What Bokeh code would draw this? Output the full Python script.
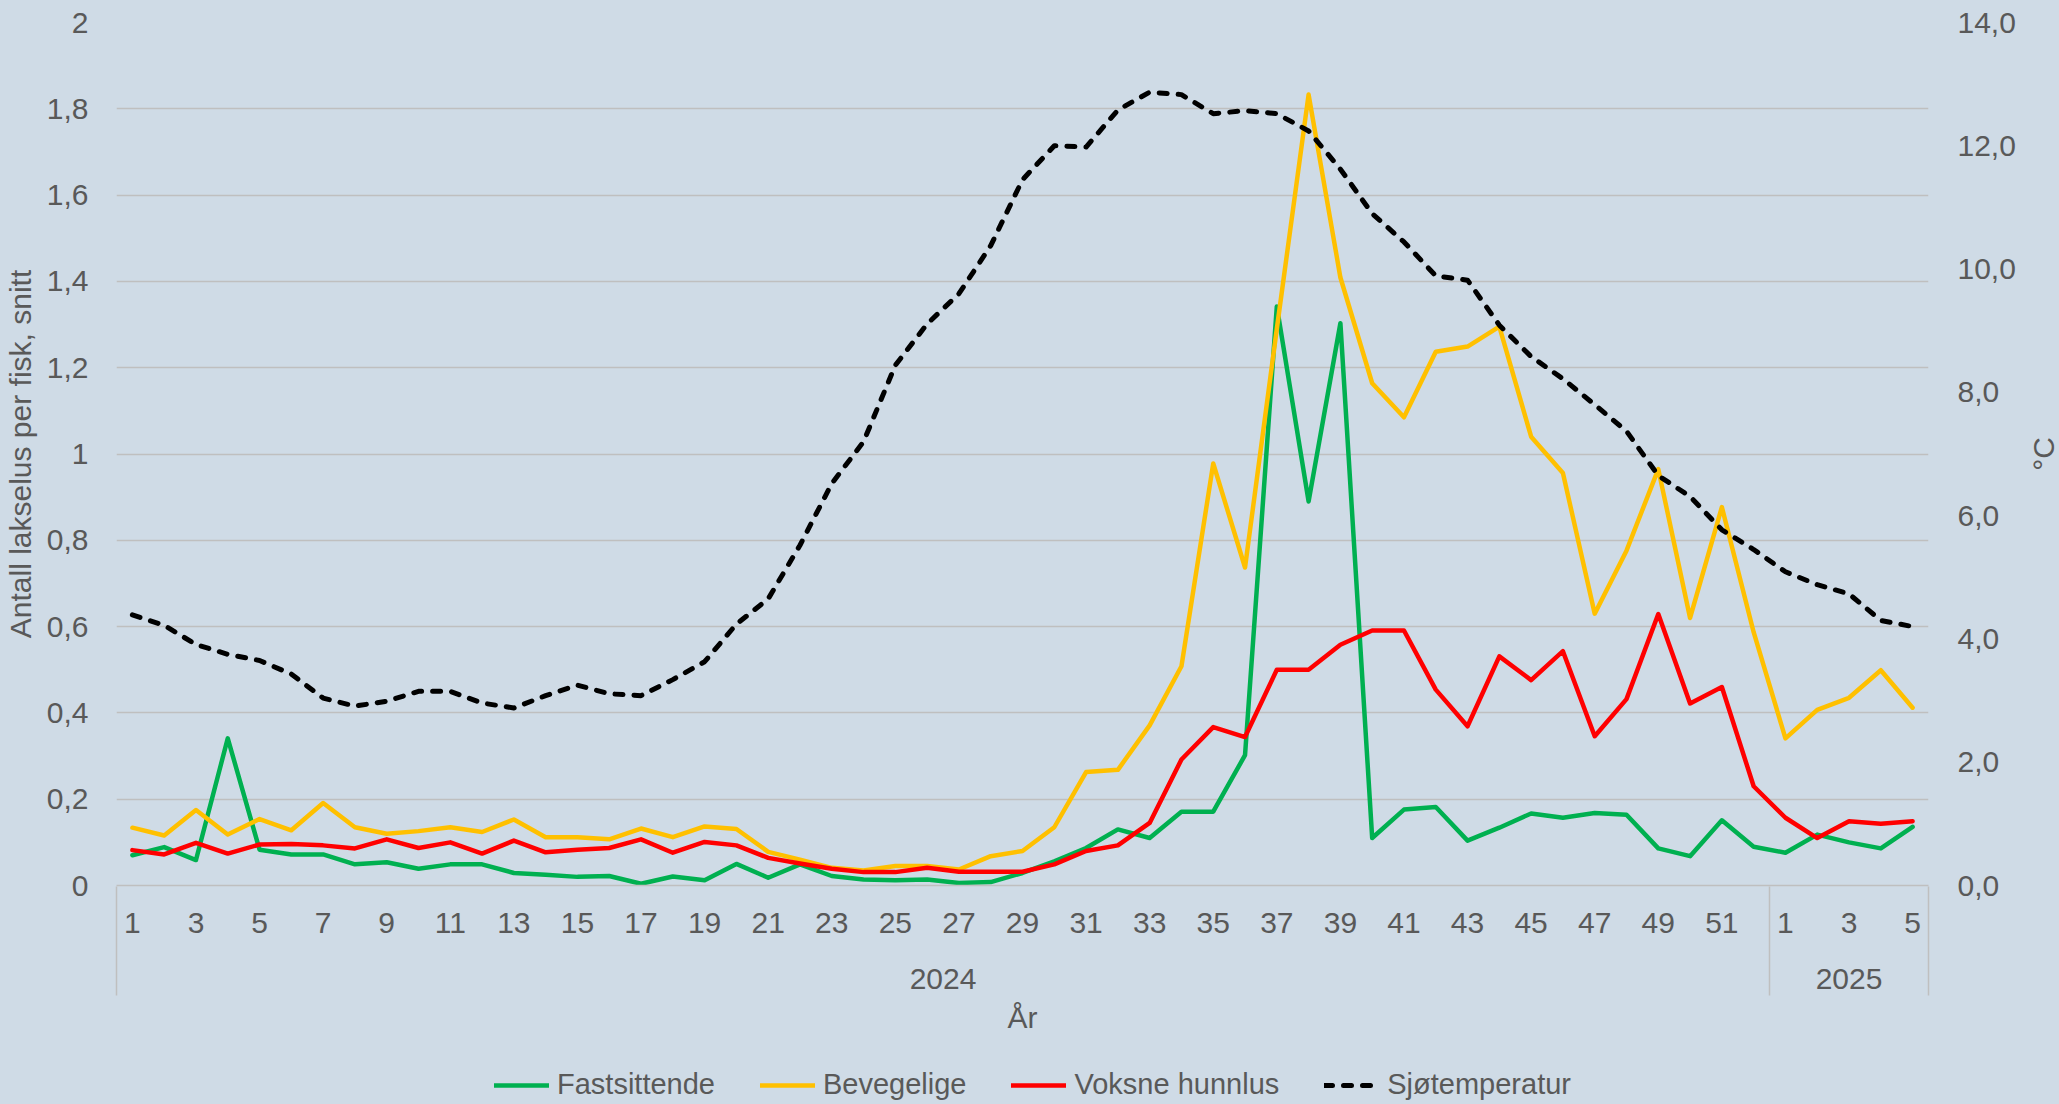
import math
from bokeh.plotting import figure
from bokeh.layouts import column, row
from bokeh.models import Range1d, LinearAxis, FixedTicker, Grid, Legend, LegendItem
from bokeh.core.properties import value
from bokeh.embed import file_html
from bokeh.resources import INLINE

# ---------------- data ----------------
years = ["2024", "2025"]
weeks_2024 = list(range(1, 53))
weeks_2025 = [1, 2, 3, 4, 5]

fastsittende = [
    0.070, 0.089, 0.059, 0.341, 0.083, 0.072, 0.072, 0.049, 0.054, 0.039,
    0.049, 0.049, 0.029, 0.025, 0.020, 0.022, 0.004, 0.021, 0.012, 0.050,
    0.018, 0.049, 0.022, 0.014, 0.012, 0.014, 0.006, 0.008, 0.029, 0.056,
    0.087, 0.130, 0.110, 0.171, 0.171, 0.302, 1.342, 0.890, 1.303, 0.110,
    0.176, 0.182, 0.104, 0.134, 0.167, 0.157, 0.168, 0.164, 0.086, 0.068,
    0.151, 0.090,
    0.076, 0.118, 0.100, 0.086, 0.136,
]
bevegelige = [
    0.134, 0.116, 0.175, 0.118, 0.154, 0.128, 0.191, 0.135, 0.120, 0.126,
    0.135, 0.124, 0.153, 0.112, 0.112, 0.107, 0.132, 0.112, 0.137, 0.131,
    0.078, 0.060, 0.041, 0.035, 0.045, 0.045, 0.037, 0.068, 0.080, 0.135,
    0.263, 0.268, 0.371, 0.508, 0.978, 0.737, 1.290, 1.833, 1.409, 1.164,
    1.085, 1.237, 1.249, 1.295, 1.040, 0.956, 0.630, 0.776, 0.965, 0.620,
    0.877, 0.587,
    0.341, 0.407, 0.435, 0.499, 0.412,
]
voksne_hunnlus = [
    0.082, 0.072, 0.099, 0.074, 0.095, 0.096, 0.093, 0.086, 0.107, 0.087,
    0.100, 0.074, 0.104, 0.077, 0.083, 0.087, 0.107, 0.076, 0.101, 0.093,
    0.064, 0.051, 0.039, 0.031, 0.031, 0.041, 0.032, 0.032, 0.032, 0.049,
    0.080, 0.093, 0.145, 0.292, 0.367, 0.344, 0.500, 0.500, 0.558, 0.591,
    0.591, 0.454, 0.369, 0.531, 0.476, 0.543, 0.346, 0.432, 0.629, 0.422,
    0.460, 0.230,
    0.157, 0.110, 0.149, 0.143, 0.149,
]
sjotemperatur = [
    4.39, 4.22, 3.91, 3.75, 3.65, 3.43, 3.04, 2.91, 2.99, 3.15,
    3.15, 2.96, 2.88, 3.08, 3.25, 3.11, 3.08, 3.34, 3.63, 4.24,
    4.65, 5.52, 6.52, 7.20, 8.44, 9.11, 9.60, 10.38, 11.45, 12.00,
    11.98, 12.58, 12.87, 12.83, 12.52, 12.57, 12.52, 12.24, 11.62, 10.90,
    10.44, 9.89, 9.82, 9.09, 8.58, 8.22, 7.80, 7.37, 6.65, 6.31,
    5.77, 5.45,
    5.09, 4.88, 4.73, 4.30, 4.20,
]

left_ticks = [0, 0.2, 0.4, 0.6, 0.8, 1, 1.2, 1.4, 1.6, 1.8, 2]
left_tick_labels = ["0", "0,2", "0,4", "0,6", "0,8", "1", "1,2", "1,4", "1,6", "1,8", "2"]
right_ticks = [0, 2, 4, 6, 8, 10, 12, 14]
right_tick_labels = ["0,0", "2,0", "4,0", "6,0", "8,0", "10,0", "12,0", "14,0"]

series_names = ["Fastsittende", "Bevegelige", "Voksne hunnlus", "Sjøtemperatur"]
y_title = "Antall lakselus per fisk, snitt"
y2_title = "°C"
x_title = "År"

# ---------------- derived positions ----------------
all_weeks = weeks_2024 + weeks_2025
n = len(all_weeks)
x = list(range(1, n + 1))
week_tick_pos = [xi for xi, w in zip(x, all_weeks) if w % 2 == 1]
week_tick_text = {xi: str(w) for xi, w in zip(x, all_weeks) if w % 2 == 1}
n24 = len(weeks_2024)
year_centers = [(1 + n24) / 2, (n24 + 1 + n) / 2]
separators = [0.5, n24 + 0.5, n + 0.5]

# ---------------- style ----------------
BG = "#cfdbe6"
GRID = "#bfbfbf"
TXT = "#595959"
FONT = "Liberation Sans"
FS = "30px"
FS_LEG = "29px"
COLORS = ["#00b050", "#ffc000", "#ff0000", "#000000"]
WIDTHS = [4.5, 4.5, 4.5, 5]
DASHES = ["solid", "solid", "solid", "8 11"]

MAIN_W, MAIN_H = 2019, 1040
SIDE_W = 2059 - MAIN_W
LEG_H = 1104 - MAIN_H
TOP, BOTTOM = 22, MAIN_H - 885


def bare_figure(w, h, xr, yr, **kw):
    f = figure(width=w, height=h, x_range=xr, y_range=yr,
               x_axis_type=None, y_axis_type=None,
               output_backend="svg", toolbar_location=None,
               background_fill_color=BG, border_fill_color=BG,
               outline_line_color=None, **kw)
    return f


p = bare_figure(MAIN_W, MAIN_H, Range1d(0.5, n + 0.5), Range1d(0, 2),
                min_border_left=115, min_border_right=MAIN_W - 1928,
                min_border_top=TOP, min_border_bottom=BOTTOM)
p.extra_y_ranges = {"temp": Range1d(0, 14)}

p.add_layout(Grid(dimension=1, ticker=FixedTicker(ticks=left_ticks),
                  grid_line_color=GRID, grid_line_width=1.5))

series = [fastsittende, bevegelige, voksne_hunnlus, sjotemperatur]
for i, ys in enumerate(series):
    kw = dict(y_range_name="temp") if i == 3 else {}
    p.line(x, ys, line_color=COLORS[i], line_width=WIDTHS[i], line_dash=DASHES[i],
           line_join="round", line_cap="round", **kw)


def style_axis(ax):
    ax.major_label_text_font = FONT
    ax.major_label_text_font_size = FS
    ax.major_label_text_color = TXT
    ax.axis_label_text_font = FONT
    ax.axis_label_text_font_size = FS
    ax.axis_label_text_color = TXT
    ax.axis_label_text_font_style = "normal"
    ax.major_tick_line_color = None
    ax.major_tick_in = 0
    ax.major_tick_out = 0


# left axis
yl = LinearAxis(ticker=FixedTicker(ticks=left_ticks),
                major_label_overrides=dict(zip(left_ticks, left_tick_labels)),
                axis_line_color=None, minor_tick_line_color=None,
                minor_tick_in=0, minor_tick_out=0,
                major_label_standoff=28,
                axis_label=y_title, axis_label_standoff=7)
style_axis(yl)
p.add_layout(yl, "left")

# right axis (its title is drawn in the side strip)
yr = LinearAxis(y_range_name="temp", ticker=FixedTicker(ticks=right_ticks),
                major_label_overrides=dict(zip(right_ticks, right_tick_labels)),
                axis_line_color=None, minor_tick_line_color=None,
                minor_tick_in=0, minor_tick_out=0,
                major_label_standoff=29)
style_axis(yr)
p.add_layout(yr, "right")

# bottom axis 1: week numbers
xw = LinearAxis(ticker=FixedTicker(ticks=week_tick_pos),
                major_label_overrides=week_tick_text,
                axis_line_color=GRID, axis_line_width=1.5,
                minor_tick_line_color=None, minor_tick_in=0, minor_tick_out=0,
                major_label_standoff=27)
style_axis(xw)
p.add_layout(xw, "below")

# bottom axis 2: years with group separators
xy = LinearAxis(ticker=FixedTicker(ticks=year_centers, minor_ticks=separators),
                major_label_overrides=dict(zip(year_centers, years)),
                axis_line_color=None,
                minor_tick_line_color=GRID, minor_tick_line_width=1.5,
                minor_tick_in=49, minor_tick_out=60,
                major_label_standoff=-27,
                axis_label=x_title, axis_label_standoff=9)
style_axis(xy)
p.add_layout(xy, "below")

# side strip with the secondary axis title
ps = bare_figure(SIDE_W, MAIN_H, Range1d(0, 1), Range1d(0, 2),
                 min_border_left=0, min_border_right=0,
                 min_border_top=TOP, min_border_bottom=BOTTOM)
ps.text(x=[0.6], y=[1], text=[y2_title], angle=math.pi / 2,
        text_align="center", text_baseline="middle",
        text_font=value(FONT), text_font_size=FS, text_color=TXT)

# legend strip (legend-only renderers hold no visible data)
pl = bare_figure(MAIN_W + SIDE_W, LEG_H, Range1d(0, 1), Range1d(0, 1),
                 min_border_left=0, min_border_right=0,
                 min_border_top=0, min_border_bottom=0)
items = []
for i, name in enumerate(series_names):
    r = pl.line(x=[math.nan, math.nan], y=[math.nan, math.nan],
                line_color=COLORS[i], line_width=WIDTHS[i],
                line_dash=DASHES[i], line_cap="round")
    items.append(LegendItem(label=name, renderers=[r]))
legend = Legend(items=items, orientation="horizontal", location=(494, 3),
                glyph_width=55, glyph_height=28, label_height=28,
                label_standoff=8, spacing=45, padding=0, margin=0,
                border_line_color=None, background_fill_alpha=0,
                label_text_font=FONT, label_text_font_size=FS_LEG,
                label_text_color=TXT)
pl.add_layout(legend)

layout = column(row(p, ps, spacing=0), pl, spacing=0)

html = file_html(layout, INLINE, title="Lakselus")
css = "<style>html, body { background-color: %s !important; }</style>" % BG
if "</head>" in html:
    html = html.replace("</head>", css + "</head>", 1)
else:
    html = css + html
with open("out.html", "w", encoding="utf-8") as f:
    f.write(html)
